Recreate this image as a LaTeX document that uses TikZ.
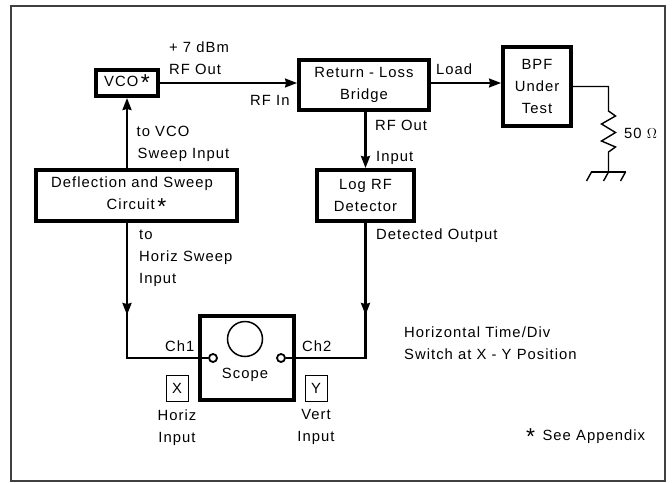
\documentclass[tikz,border=0pt]{standalone}
\usepackage{fontspec}
\setmainfont[LetterSpace=7]{Liberation Sans}
\usetikzlibrary{positioning}
\usetikzlibrary{arrows.meta}

\newcommand{\apx}{\raisebox{-4.5pt}{\fontsize{23}{23}\selectfont *}}

\begin{document}
\begin{tikzpicture}[x=1pt, y=-1pt, >={Stealth[length=12pt, width=9pt, inset=1pt]},
  every node/.style={font=\fontsize{14.8}{22}\selectfont, inner sep=0pt, align=center},
  myblock/.style={rectangle, draw, line width=4pt},
  mytext/.style={anchor=west, align=left},
  myframe/.style={rectangle, draw=black!75, line width=2pt, minimum width=654pt, minimum height=474.5pt},
  mybox/.style={rectangle, draw, line width=1pt, minimum width=22pt, minimum height=26pt},
  myport/.style={circle, draw, fill=white, line width=1.8pt, minimum size=8pt},
  conn/.style={line width=2.2pt},
  thinconn/.style={line width=1.4pt}]

  \useasboundingbox (0,0) rectangle (672,482);
  \node[myframe] (frame) at (338,243.5) {};

  \node[myblock, minimum width=62pt, minimum height=26pt] (vco) at (127,83) {VCO\,\apx};
  \node[myblock, minimum width=130pt, minimum height=50pt] (bridge) [right = 137pt of vco, yshift=-2pt] {Return - Loss\\Bridge};
  \node[myblock, minimum width=201pt, minimum height=51pt] (defl) [below = 70pt of vco, xshift=9.5pt] {Deflection and Sweep\hspace*{9pt}\\Circuit\,\apx};
  \node[myblock, minimum width=97pt, minimum height=51pt] (log) [below = 56pt of bridge, xshift=1.5pt] {Log RF\\Detector};
  \node[myblock, minimum width=68pt, minimum height=79pt] (bpf) [right = 70pt of bridge, yshift=-1.5pt] {BPF\\Under\\Test};
  \node[myblock, minimum width=94pt, minimum height=84pt] (scope) at (247,358) {};
  \node[circle, draw, line width=1.5pt, minimum size=35pt] (screen) at (245,339) {};
  \node (scopetext) at (245,375) {Scope};
  \node[myport] (ch1) at (213,358) {};
  \node[myport] (ch2) at (281,358) {};
  \node[mybox] (xbox) at (177,388) {X};
  \node[mybox] (ybox) at (316,388) {Y};

  \coordinate (tip1) at (127,315);
  \coordinate (tip2) at (365.5,315);
  \coordinate (rtop) at (608.5,111);
  \coordinate (rbot) at (608.5,152);
  \coordinate (gnd) at (608.5,172);

  \draw[thinconn, ->] (vco.east) -- (vco.east -| bridge.west);
  \draw[thinconn, ->] (vco.east -| bridge.east) -- (vco.east -| bpf.west);
  \draw[conn, ->] (vco.south |- defl.north) -- (vco.south);
  \draw[conn, ->] (log.north |- bridge.south) -- (log.north);
  \draw[conn, ->] (vco.south |- defl.south) -- (tip1);
  \draw[conn] (tip1) ++(0,-5) -- (tip1 |- ch1) -- (ch1);
  \draw[conn, ->] (log.south) -- (tip2);
  \draw[conn] (tip2) ++(0,-5) -- (tip2 |- ch2) -- (ch2);

  \draw[thinconn] (bpf.east) -- (bpf.east -| rtop) -- (rtop) -- ++(7,5) -- ++(-14,8) -- ++(14,8.5) -- ++(-14,8.5) -- ++(14,6) -- (rbot) -- (gnd);
  \draw[thinconn] (gnd) ++(-18,0) -- ++(35,0);
  \foreach \x in {-17,0,17}
    \draw[thinconn] (gnd) ++(\x,0) -- ++(-5,9);

  \node[mytext] (plus7) at (169,47) {+ 7 dBm};
  \node[mytext] (rfout) at (169,69) {RF Out};
  \node[mytext] (rfin) at (250,100) {RF In};
  \node[mytext] (tovco) at (136.5,144) {to VCO\\\hspace*{1pt}Sweep Input};
  \node[mytext] (tohoriz) at (139,258.5) {to\\Horiz Sweep\\Input};
  \node[mytext] (load) at (436,69) {Load};
  \node[mytext] (rfout2) at (375,125) {RF Out};
  \node[mytext] (input) at (376,158) {Input};
  \node[mytext] (detected) at (376,236) {Detected Output};
  \node[mytext] (ohm) at (624,133) {50 $\Omega$};
  \node[mytext] (ch1text) at (165,346) {Ch1};
  \node[mytext] (ch2text) at (302,346) {Ch2};
  \node (horiz) [below = 8pt of xbox] {Horiz\\Input};
  \node (vert) [below = 8pt of ybox] {Vert\\Input};
  \node[mytext] (note) at (404,343) {Horizontal Time/Div\\Switch at X - Y Position};
  \node[mytext] (appendix) at (526,437) {\apx\,\,\,See Appendix};
\end{tikzpicture}
\end{document}
